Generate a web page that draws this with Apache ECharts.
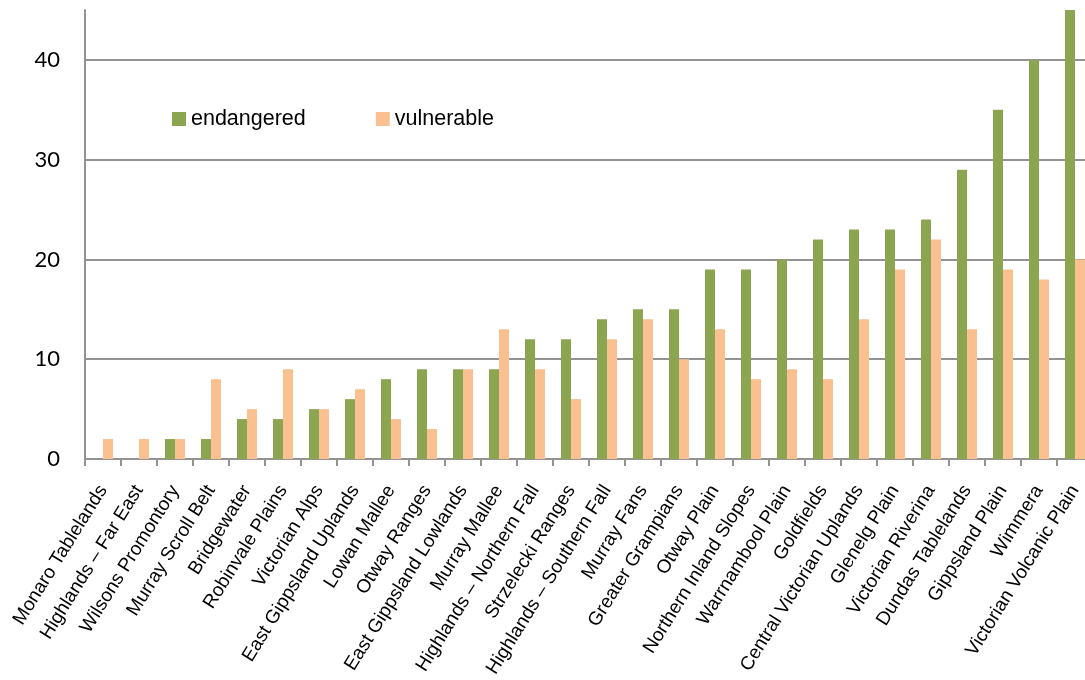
<!DOCTYPE html>
<html>
<head>
<meta charset="utf-8">
<script src="https://cdn.jsdelivr.net/npm/echarts@6/dist/echarts.min.js"></script>
<style>
html,body{margin:0;padding:0;background:#fff;overflow:hidden;}
#chart{width:1100px;height:680px;}
</style>
</head>
<body>
<div id="chart"></div>
<script>
const categories = [
  "Monaro Tablelands", "Highlands – Far East", "Wilsons Promontory", "Murray Scroll Belt",
  "Bridgewater", "Robinvale Plains", "Victorian Alps", "East Gippsland Uplands",
  "Lowan Mallee", "Otway Ranges", "East Gippsland Lowlands", "Murray Mallee",
  "Highlands – Northern Fall", "Strzelecki Ranges", "Highlands – Southern Fall", "Murray Fans",
  "Greater Grampians", "Otway Plain", "Northern Inland Slopes", "Warrnambool Plain",
  "Goldfields", "Central Victorian Uplands", "Glenelg Plain", "Victorian Riverina",
  "Dundas Tablelands", "Gippsland Plain", "Wimmera", "Victorian Volcanic Plain"
];
const endangered = [0, 0, 2, 2, 4, 4, 5, 6, 8, 9, 9, 9, 12, 12, 14, 15, 15, 19, 19, 20, 22, 23, 23, 24, 29, 35, 40, 45];
const vulnerable = [2, 2, 2, 8, 5, 9, 5, 7, 4, 3, 9, 13, 9, 6, 12, 14, 10, 13, 8, 9, 8, 14, 19, 22, 13, 19, 18, 20];
const seriesNames = ["endangered", "vulnerable"];
const yMin = 0, yMax = 45, yInterval = 10;

const chart = echarts.init(document.getElementById('chart'));
const gridColor = '#939393';
chart.setOption({
  animation: false,
  backgroundColor: '#ffffff',
  grid: { left: 85, right: 7, top: 10, bottom: 221, outerBoundsMode: 'none' },
  legend: {
    data: seriesNames,
    left: 172, top: 108, padding: 0,
    icon: 'rect', itemWidth: 14, itemHeight: 14, itemGap: 70,
    textStyle: { fontSize: 21.5, fontFamily: 'Liberation Sans, Arial, sans-serif', color: '#000' }
  },
  xAxis: {
    type: 'category',
    data: categories,
    axisLine: { lineStyle: { color: gridColor, width: 2 } },
    axisTick: { show: true, length: 7, lineStyle: { color: gridColor, width: 2 } },
    axisLabel: {
      interval: 0, rotate: 58, margin: 28,
      fontSize: 19, fontFamily: 'Liberation Sans, Arial, sans-serif', color: '#000'
    }
  },
  yAxis: {
    type: 'value',
    min: yMin, max: yMax, interval: yInterval,
    axisLine: { show: true, lineStyle: { color: gridColor, width: 2 } },
    axisTick: { show: false },
    axisLabel: {
      showMaxLabel: false, margin: 25,
      fontSize: 22, fontFamily: 'Lato, Open Sans, sans-serif', color: '#000'
    },
    splitLine: { show: true, showMinLine: false, showMaxLine: false, lineStyle: { color: gridColor, width: 2 } }
  },
  series: [
    { name: seriesNames[0], type: 'bar', data: endangered, barWidth: 10, barGap: '0%', itemStyle: { color: '#8BA550' } },
    { name: seriesNames[1], type: 'bar', data: vulnerable, barWidth: 10, barGap: '0%', itemStyle: { color: '#FAC090' } }
  ]
});
</script>
</body>
</html>
